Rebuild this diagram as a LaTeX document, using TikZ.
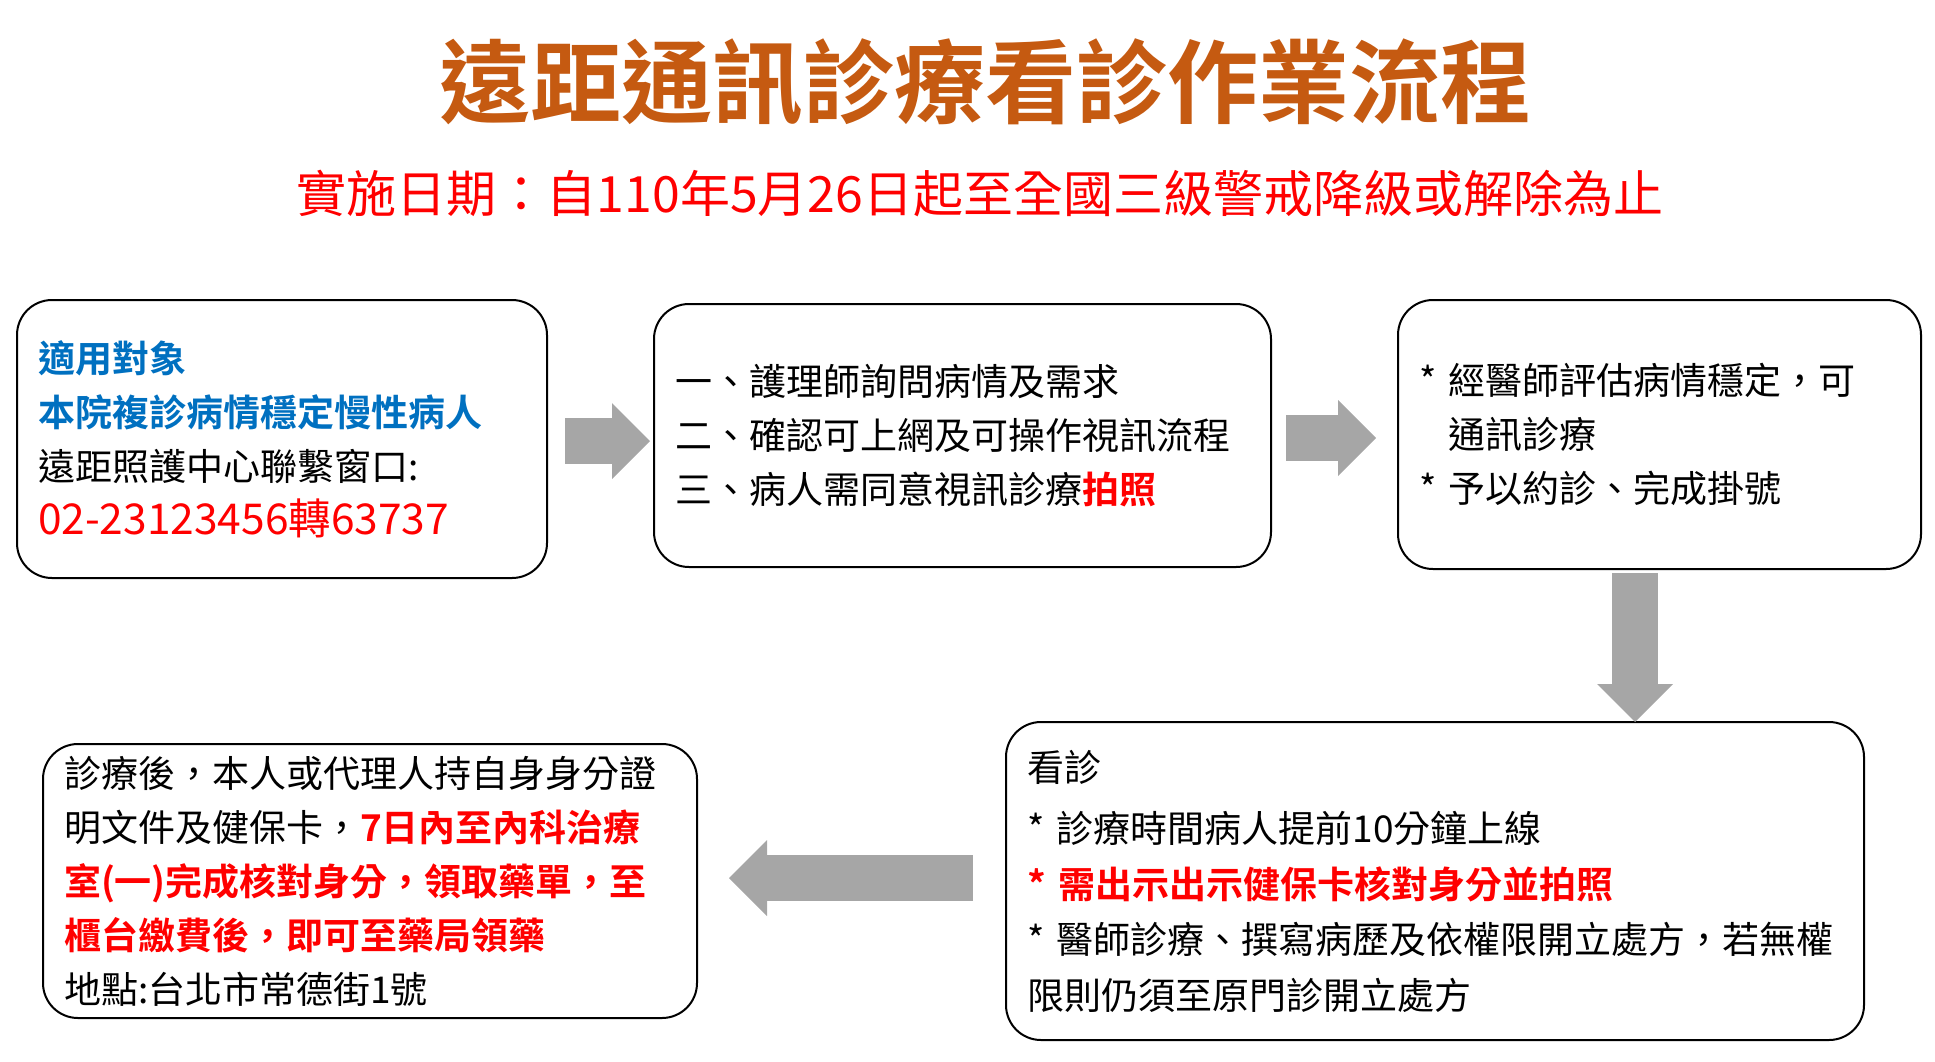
\documentclass[tikz,border=0pt]{standalone}
\usepackage{fontspec}
\setmainfont{Noto Sans CJK TC}[BoldFont={Noto Sans CJK TC Bold}]
\usepackage{xcolor}
\usetikzlibrary{arrows.meta}

\definecolor{titleorange}{HTML}{C55A11}
\definecolor{tred}{HTML}{FF0000}
\definecolor{tblue}{HTML}{0070C0}
\definecolor{arrgray}{HTML}{A6A6A6}

\begin{document}
\begin{tikzpicture}[x=1pt,y=-1pt,
  stepbox/.style={draw, line width=2pt, rounded corners=35pt, align=left, inner xsep=21pt, inner ysep=0pt, font={\fontsize{37}{54}\selectfont}},
  fatarr/.style={draw=arrgray, line width=46pt, -{Triangle[length=38pt,width=76pt,line width=0pt]}}]
\useasboundingbox (0,0) rectangle (1935,1061);

\node[font={\fontsize{91}{100}\selectfont\bfseries}, text=titleorange] (title) at (985,82) {遠距通訊診療看診作業流程};
\node[font={\fontsize{50}{60}\selectfont}, text=tred] (date) at (980,193) {實施日期：自110年5月26日起至全國三級警戒降級或解除為止};

\node[stepbox, text width=488pt, minimum height=278pt] (target) at (282,439)
  {\textcolor{tblue}{\textbf{適用對象}}\\
   \textcolor{tblue}{\textbf{本院複診病情穩定慢性病人}}\\
   遠距照護中心聯繫窗口:\\
   {\fontsize{42.5}{53}\selectfont\textcolor{tred}{02-23123456轉63737}}};
\node[stepbox, text width=575pt, minimum height=263pt] (nurse) at (962.5,435.5)
  {一、護理師詢問病情及需求\\
   二、確認可上網及可操作視訊流程\\
   三、病人需同意視訊診療\textcolor{tred}{\textbf{拍照}}};
\node[stepbox, text width=481pt, minimum height=269pt] (doctor) at (1659.5,434.5)
  {* 經醫師評估病情穩定，可\\
   \hphantom{* }通訊診療\\{}%
   * 予以約診、完成掛號};
\node[stepbox, text width=816pt, minimum height=318pt, font={\fontsize{37}{55.5}\selectfont}] (visit) at (1435,881)
  {看診\\[6pt]{}%
   * 診療時間病人提前10分鐘上線\\
   \textcolor{tred}{\textbf{* 需出示出示健保卡核對身分並拍照}}\\{}%
   * 醫師診療、撰寫病歷及依權限開立處方，若無權\\
   限則仍須至原門診開立處方};
\node[stepbox, text width=612pt, minimum height=274pt] (after) at (370,881)
  {診療後，本人或代理人持自身身分證\\
   明文件及健保卡，\textcolor{tred}{\textbf{7日內至內科治療}}\\
   \textcolor{tred}{\textbf{室(一)完成核對身分，領取藥單，至}}\\
   \textcolor{tred}{\textbf{櫃台繳費後，即可至藥局領藥}}\\
   地點:台北市常德街1號};

\coordinate (a1s) at (565,441);
\coordinate (a1e) at (650,441);
\coordinate (a2s) at (1286,438);
\coordinate (a2e) at (1376,438);
\coordinate (a3s) at (1635,573);
\coordinate (a3e) at (1635,722);
\coordinate (a4s) at (973,878);
\coordinate (a4e) at (729,878);
\draw[fatarr] (a1s) -- (a1e);
\draw[fatarr] (a2s) -- (a2e);
\draw[fatarr] (a3s) -- (a3e);
\draw[fatarr] (a4s) -- (a4e);
\end{tikzpicture}
\end{document}
